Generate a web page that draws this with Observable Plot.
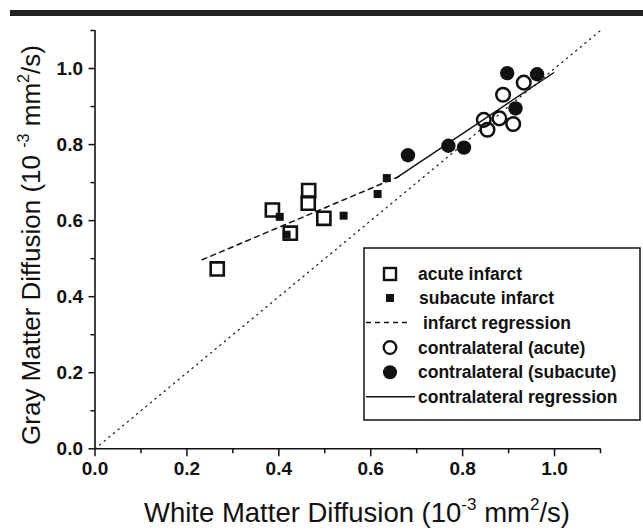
<!DOCTYPE html>
<html><head><meta charset="utf-8">
<script src="https://cdn.jsdelivr.net/npm/d3@7"></script>
<script src="https://cdn.jsdelivr.net/npm/@observablehq/plot@0.6"></script>
<style>body{margin:0;background:#fff} svg{display:block}</style>
</head><body><div id="chart"></div>
<script>
// --- data ---
const acuteInfarctX = [0.266, 0.386, 0.465, 0.464, 0.498, 0.425];
const acuteInfarctY = [0.473, 0.628, 0.679, 0.646, 0.606, 0.567];
const subacuteInfarctX = [0.402, 0.417, 0.541, 0.615, 0.635];
const subacuteInfarctY = [0.610, 0.563, 0.613, 0.670, 0.712];
const contraAcuteX = [0.888, 0.933, 0.846, 0.880, 0.854, 0.910];
const contraAcuteY = [0.931, 0.963, 0.865, 0.869, 0.839, 0.854];
const contraSubacuteX = [0.681, 0.769, 0.803, 0.897, 0.962, 0.915];
const contraSubacuteY = [0.772, 0.797, 0.792, 0.988, 0.985, 0.895];
const infarctRegX = [0.233, 0.665];
const infarctRegY = [0.497, 0.718];
const contraRegX = [0.655, 0.998];
const contraRegY = [0.712, 0.989];
const identityX = [0, 1.1];
const identityY = [0, 1.1];
const majorTicks = [0, 0.2, 0.4, 0.6, 0.8, 1.0];
const minorTicks = [0.1, 0.3, 0.5, 0.7, 0.9, 1.1];
const legendLabels = ["acute infarct", "subacute infarct", "infarct regression",
  "contralateral (acute)", "contralateral (subacute)", "contralateral regression"];

const pts = (xs, ys) => xs.map((x, i) => ({x, y: ys[i]}));
const font = "'Liberation Sans', Arial, Helvetica, sans-serif";
const ink = "#111";

const plot = Plot.plot({
  width: 643, height: 531,
  marginLeft: 94.5, marginRight: 43, marginTop: 30, marginBottom: 82.7,
  x: {domain: [0, 1.1]},
  y: {domain: [0, 1.1]},
  style: {fontFamily: font, color: ink, background: "#fff", overflow: "visible"},
  marks: [
    Plot.line(pts(identityX, identityY), {x: "x", y: "y", stroke: "#222", strokeWidth: 1.3, strokeDasharray: "1.2,4.8"}),
    Plot.line(pts(infarctRegX, infarctRegY), {x: "x", y: "y", stroke: ink, strokeWidth: 1.5, strokeDasharray: "5,4.5"}),
    Plot.line(pts(contraRegX, contraRegY), {x: "x", y: "y", stroke: ink, strokeWidth: 1.4}),
    Plot.dot(pts(acuteInfarctX, acuteInfarctY), {x: "x", y: "y", symbol: "square", r: 7.4, stroke: ink, strokeWidth: 2.6, fill: "none"}),
    Plot.dot(pts(subacuteInfarctX, subacuteInfarctY), {x: "x", y: "y", symbol: "square", r: 4.5, fill: ink, stroke: "none"}),
    Plot.dot(pts(contraAcuteX, contraAcuteY), {x: "x", y: "y", r: 6.8, stroke: ink, strokeWidth: 2.5, fill: "none"}),
    Plot.dot(pts(contraSubacuteX, contraSubacuteY), {x: "x", y: "y", r: 7.2, fill: ink, stroke: "none"}),
    Plot.ruleY([0], {stroke: ink, strokeWidth: 1.6}),
    Plot.ruleX([0], {stroke: ink, strokeWidth: 1.6}),
    Plot.axisX(majorTicks, {tickSize: 8, tickPadding: 5, tickFormat: d => d.toFixed(1), fontSize: 19, fontWeight: "bold", stroke: ink, strokeWidth: 1.5, label: null}),
    Plot.axisX(minorTicks, {tickSize: 5, tickFormat: () => "", stroke: ink, strokeWidth: 1.5, label: null}),
    Plot.axisY(majorTicks, {tickSize: 6, tickPadding: 6, tickFormat: d => d.toFixed(1), fontSize: 19, fontWeight: "bold", stroke: ink, strokeWidth: 1.5, label: null}),
    Plot.axisY(minorTicks, {tickSize: 4, tickFormat: () => "", stroke: ink, strokeWidth: 1.5, label: null})
  ]
});
document.getElementById("chart").append(plot);

const svg = d3.select(plot);
// top rule bar
svg.append("rect").attr("x", 10).attr("y", 10).attr("width", 633).attr("height", 6).attr("fill", "#222");

// axis titles with superscripts
function title(g, pre, gap, size) {
  const sup = size * 0.62, up = size * 0.42;
  const t = g.append("text").attr("font-family", font).attr("font-size", size).attr("fill", ink).attr("text-anchor", "middle");
  t.append("tspan").text(pre + "(10" + gap);
  t.append("tspan").attr("font-size", sup).attr("dy", -up).text("-3");
  t.append("tspan").attr("dy", up).text(" mm");
  t.append("tspan").attr("font-size", sup).attr("dy", -up).text("2");
  t.append("tspan").attr("dy", up).text("/s)");
  return t;
}
title(svg.append("g").attr("transform", "translate(357,522)"), "White Matter Diffusion ", "", 27.5);
title(svg.append("g").attr("transform", "translate(40,245) rotate(-90)"), "Gray Matter Diffusion ", " ", 26);

// legend
const lg = svg.append("g").attr("font-family", font).attr("font-weight", "bold").attr("font-size", 17.5).attr("fill", ink).attr("text-anchor", "start");
lg.append("rect").attr("x", 364).attr("y", 248).attr("width", 276).attr("height", 172).attr("fill", "#fff").attr("stroke", ink).attr("stroke-width", 1.5);
const rows = [274, 298, 322.5, 347.5, 372.3, 396.7];
const tx = [418, 419, 423, 418, 418, 418];
lg.append("rect").attr("x", 384).attr("y", rows[0] - 6).attr("width", 12).attr("height", 12).attr("fill", "none").attr("stroke", ink).attr("stroke-width", 2.4);
lg.append("rect").attr("x", 386).attr("y", rows[1] - 4).attr("width", 8).attr("height", 8).attr("fill", ink);
lg.append("line").attr("x1", 366).attr("x2", 410).attr("y1", rows[2]).attr("y2", rows[2]).attr("stroke", ink).attr("stroke-width", 1.4).attr("stroke-dasharray", "5,4");
lg.append("circle").attr("cx", 390).attr("cy", rows[3]).attr("r", 6.3).attr("fill", "none").attr("stroke", ink).attr("stroke-width", 2.3);
lg.append("circle").attr("cx", 390).attr("cy", rows[4]).attr("r", 7).attr("fill", ink);
lg.append("line").attr("x1", 366).attr("x2", 415).attr("y1", rows[5]).attr("y2", rows[5]).attr("stroke", ink).attr("stroke-width", 1.4);
legendLabels.forEach((s, i) => lg.append("text").attr("x", tx[i]).attr("y", rows[i]).attr("dy", "0.35em").text(s));
</script>
</body></html>
